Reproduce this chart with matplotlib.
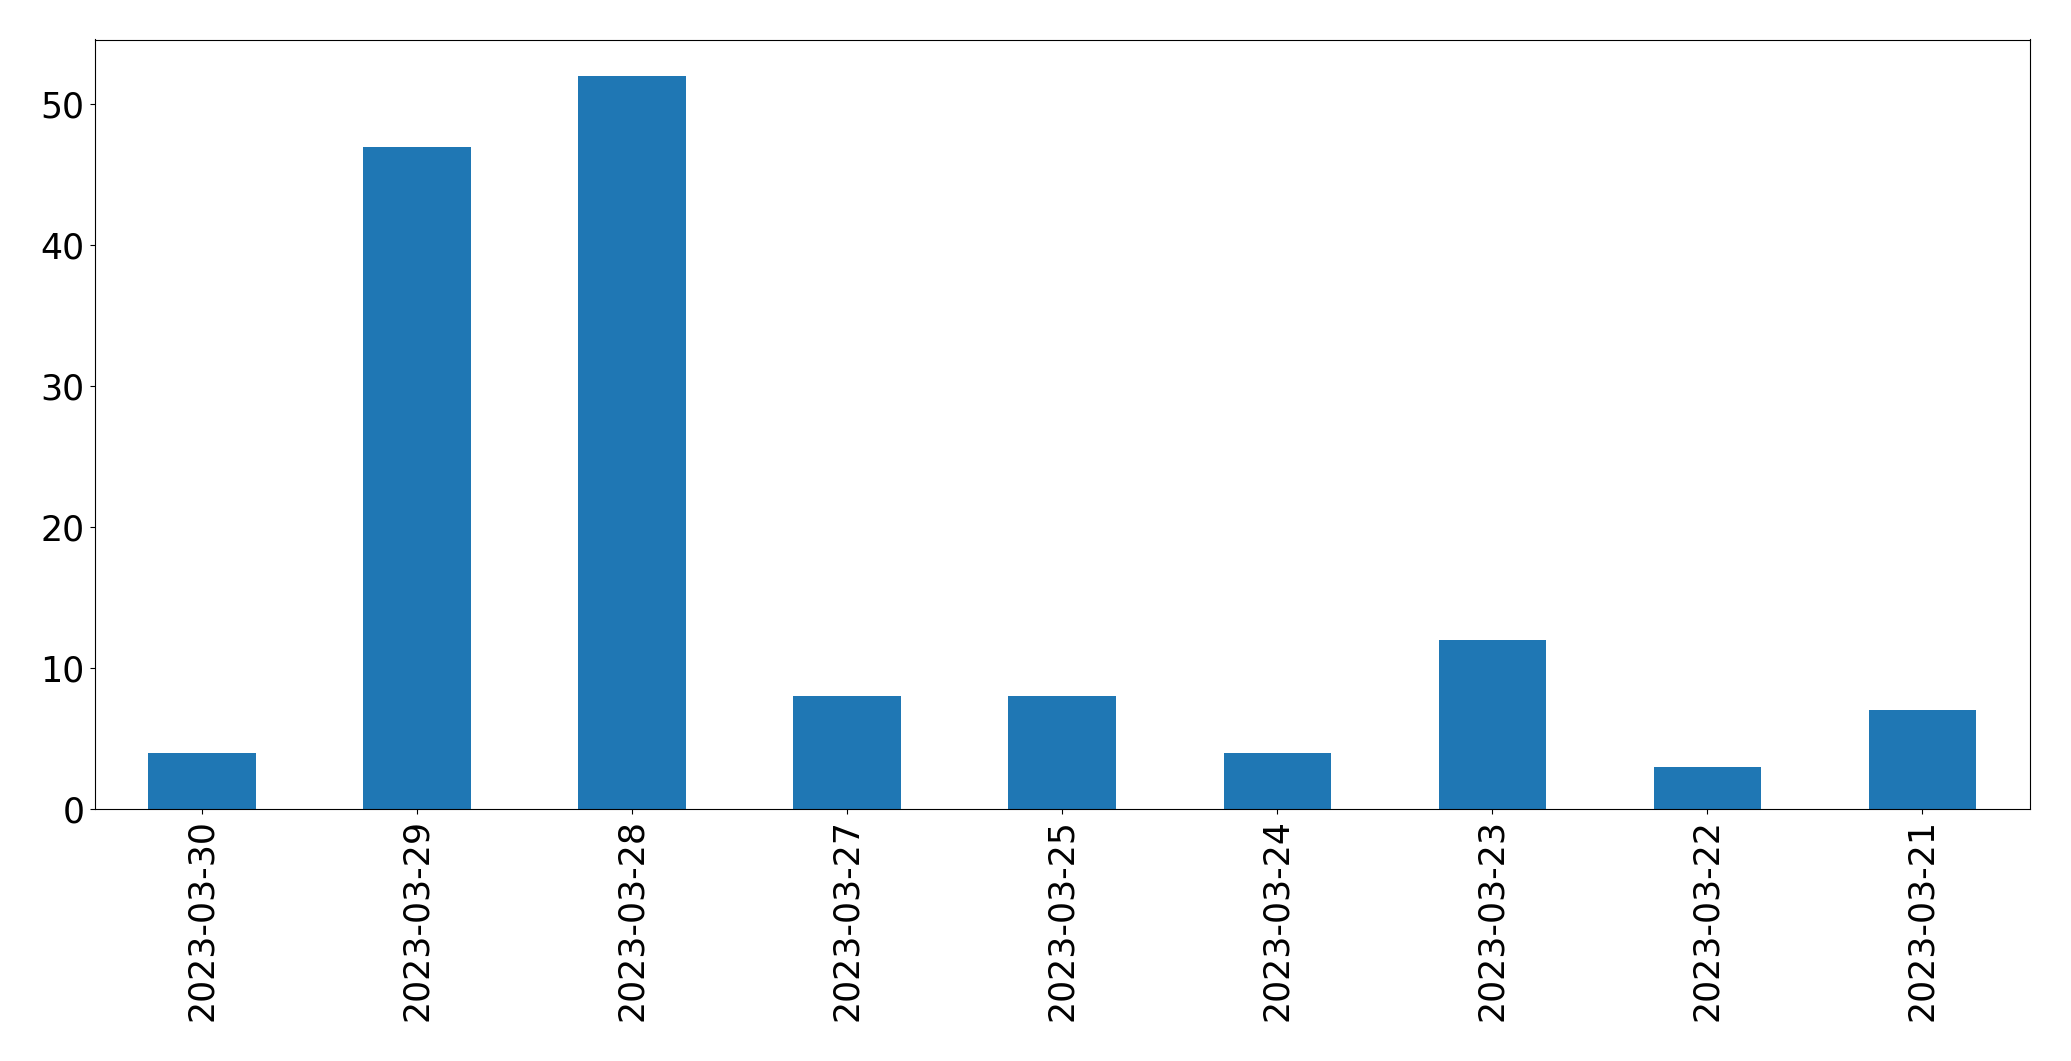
import matplotlib.pyplot as plt
import pandas as pd

dates = ['2023-03-30', '2023-03-29', '2023-03-28', '2023-03-27', '2023-03-25',
         '2023-03-24', '2023-03-23', '2023-03-22', '2023-03-21']
counts = [4, 47, 52, 8, 8, 4, 12, 3, 7]

s = pd.Series(counts, index=dates)

fig = plt.figure(figsize=(20.71, 10.61), dpi=100)
ax = fig.add_axes([94.5 / 2071, 1 - 809 / 1061, (2030 - 94.5) / 2071, (809 - 39.5) / 1061])
s.plot(kind='bar', ax=ax, color='#1f77b4')
ax.tick_params(axis='both', labelsize=25)
ax.set_yticks([0, 10, 20, 30, 40, 50])

fig.savefig('out.png', dpi=100)
